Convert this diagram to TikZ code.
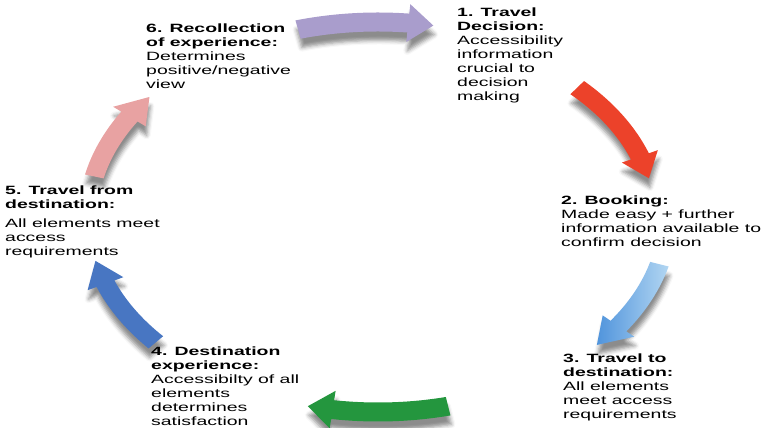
\documentclass[tikz,border=0pt]{standalone}
\usepackage{fontspec}
\setmainfont{Liberation Sans}[FakeStretch=1.62]
\usetikzlibrary{shadows.blur}
\definecolor{cPurple}{RGB}{169,157,204}
\definecolor{cRed}{RGB}{236,66,42}
\definecolor{cSkyLight}{RGB}{178,214,242}
\definecolor{cSkyDark}{RGB}{80,148,220}
\definecolor{cGreen}{RGB}{36,150,62}
\definecolor{cBlue}{RGB}{72,118,194}
\definecolor{cPink}{RGB}{232,162,162}
\tikzset{
  lbl/.style={anchor=north west,inner sep=0pt,align=left,text=black,
    font=\fontsize{12}{13.9}\selectfont},
  arr/.style={blur shadow={shadow xshift=1pt,shadow yshift=-9pt,shadow opacity=45,shadow blur radius=4pt}},
  purplearrow/.style={arr,fill=cPurple},
  redarrow/.style={arr,fill=cRed},
  skyarrow/.style={arr,left color=cSkyDark,right color=cSkyLight},
  greenarrow/.style={arr,fill=cGreen},
  bluearrow/.style={arr,fill=cBlue},
  pinkarrow/.style={arr,fill=cPink}
}
\begin{document}
\begin{tikzpicture}[x=1pt,y=1pt]
\useasboundingbox (0,0) rectangle (761,428);
\def\cx{378}\def\cy{211}\def\w{9.5}\def\hw{19}
% start/end angle, head length, size factor, style
\foreach \s/\e/\hd/\f/\sty in {106/79/5/1/purplearrow,44/12/7/0.955/redarrow,-14/-41/7/1/skyarrow,
    -76/-104/5/1/greenarrow,220/193/7/1/bluearrow,168/142/7/1/pinkarrow}{
  \pgfmathsetmacro\h{\e+\hd}
  \pgfmathsetmacro\rx{290*\f}\pgfmathsetmacro\ry{195*\f}
  \path[\sty] ({\cx+(\rx+\w)*cos(\s)},{\cy+(\ry+\w)*sin(\s)})
    arc[start angle=\s,end angle=\h,x radius=\rx+\w,y radius=\ry+\w]
    -- ({\cx+(\rx+\hw)*cos(\h)},{\cy+(\ry+\hw)*sin(\h)})
    -- ({\cx+\rx*cos(\e)},{\cy+\ry*sin(\e)})
    -- ({\cx+(\rx-\hw)*cos(\h)},{\cy+(\ry-\hw)*sin(\h)})
    -- ({\cx+(\rx-\w)*cos(\h)},{\cy+(\ry-\w)*sin(\h)})
    arc[start angle=\h,end angle=\s,x radius=\rx-\w,y radius=\ry-\w] -- cycle;
}
\node[lbl] (t1) at (457,420) {\textbf{1. Travel}\\\textbf{Decision:}\\Accessibility\\information\\crucial to\\decision\\making};
\node[lbl] (t2) at (561,232) {\textbf{2. Booking:}\\Made easy + further\\information available to\\confirm decision};
\node[lbl] (t3) at (563,74) {\textbf{3. Travel to}\\\textbf{destination:}\\All elements\\meet access\\requirements};
\node[lbl] (t4) at (151,81) {\textbf{4. Destination}\\\textbf{experience:}\\Accessibilty of all\\elements\\determines\\satisfaction};
\node[lbl] (t5) at (5,242) {\textbf{5. Travel from}\\\textbf{destination:}\\[5pt]All elements meet\\access\\requirements};
\node[lbl] (t6) at (146,404) {\textbf{6. Recollection}\\\textbf{of experience:}\\Determines\\positive/negative\\view};
\end{tikzpicture}
\end{document}
